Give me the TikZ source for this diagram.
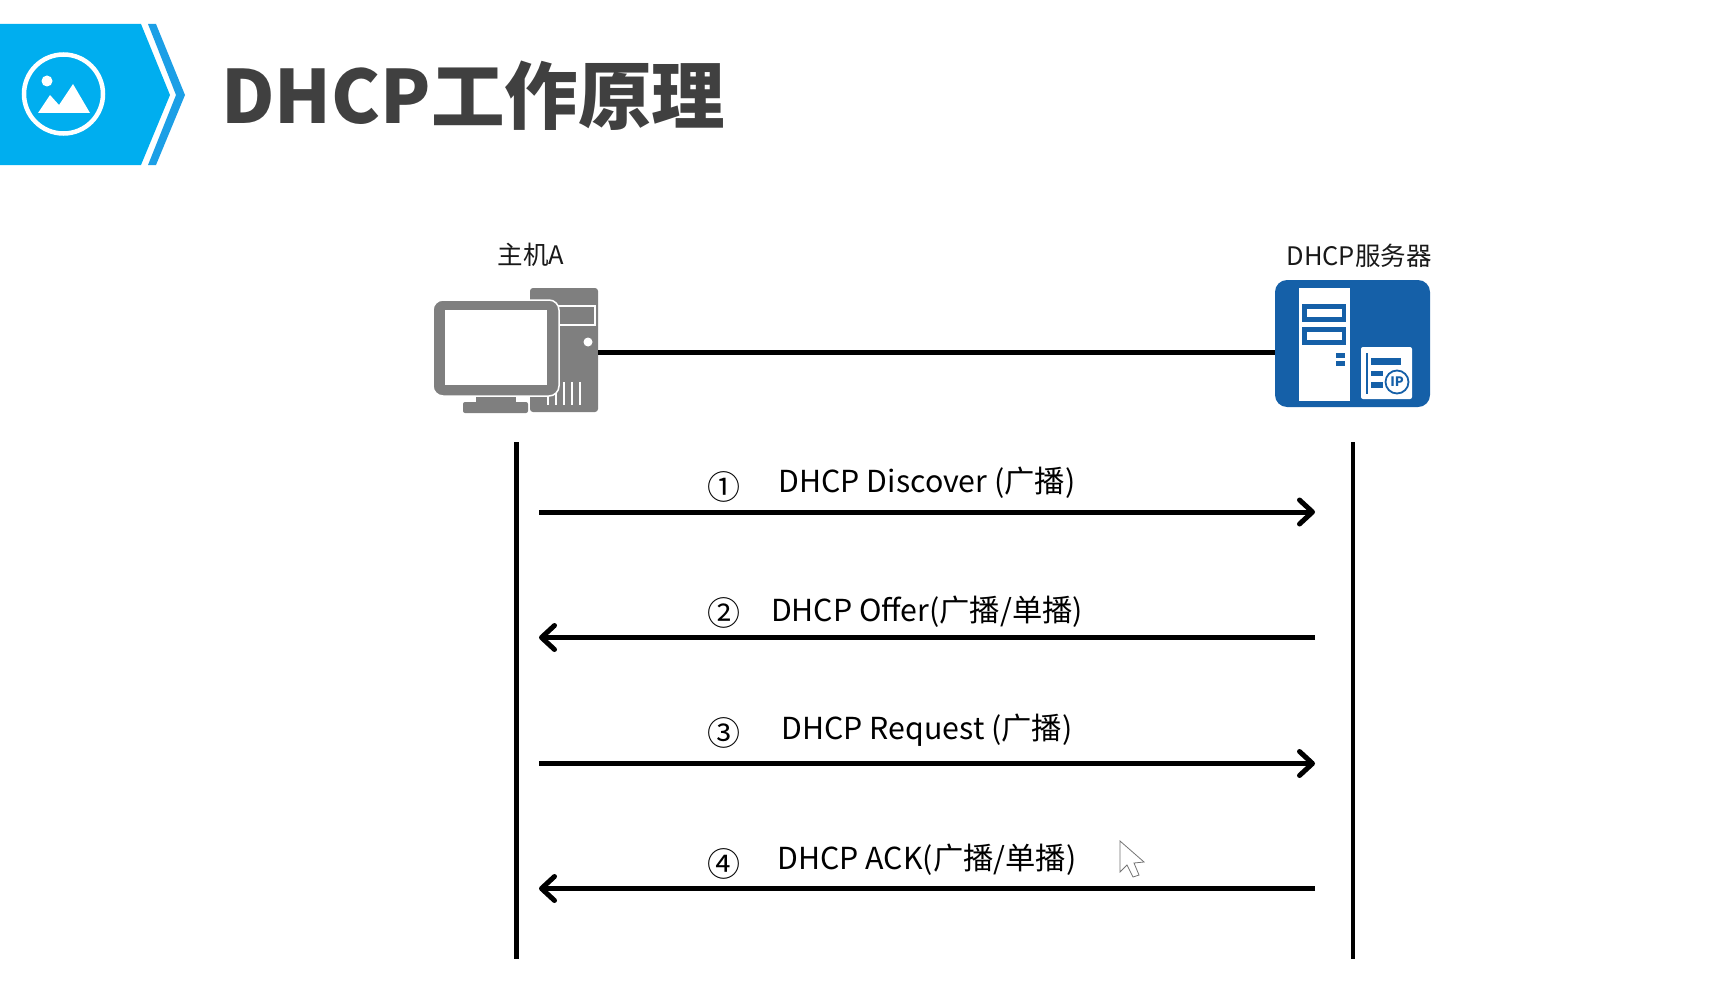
\documentclass[tikz,border=0pt]{standalone}
\usepackage{fontspec}
\setmainfont{Noto Sans CJK SC}
\usetikzlibrary{arrows.meta}
\definecolor{bannerblue}{HTML}{00AEEF}
\definecolor{chevronblue}{HTML}{1C9FE6}
\definecolor{titlegray}{HTML}{404040}
\definecolor{hostgray}{HTML}{7F7F7F}
\definecolor{serverblue}{HTML}{1560A8}
\tikzset{
  lifeline/.style={draw=black,line width=4.5pt},
  linkline/.style={draw=black,line width=5pt},
  msgarrow/.style={draw=black,line width=5pt,-{Straight Barb[length=13pt,width=24pt,round]}},
  msglabel/.style={inner sep=0pt,anchor=base,font=\fontsize{30.3}{30.3}\selectfont,text=black},
  msgnum/.style={inner sep=0pt,font=\fontsize{33}{33}\selectfont,text=black},
  devlabel/.style={inner sep=0pt,anchor=base,font=\fontsize{25.5}{25.5}\selectfont,text=black!90},
  hostpart/.style={fill=hostgray,draw=none},
  whitebar/.style={fill=white,draw=none},
  bluebar/.style={fill=serverblue,draw=none}
}
\begin{document}
\begin{tikzpicture}[x=1pt,y=-1pt]
  \useasboundingbox (0,0) rectangle (1721,1006);
  % banner
  \fill[bannerblue] (0,24) -- (141,24) -- (170,95) -- (141,165) -- (0,165) -- cycle;
  \fill[chevronblue] (148,24) -- (156,24) -- (185,95) -- (156,165) -- (148,165) -- (176,95) -- cycle;
  \draw[white,line width=4.5pt] (63.5,94) circle[radius=39.5];
  \fill[white] (47,81) circle[radius=5.5];
  \fill[white] (38,113) -- (50,95) -- (59,105) -- (73,84) -- (90,113) -- cycle;
  \node[inner sep=0pt,anchor=base west,text=titlegray,font=\bfseries\fontsize{73.5}{73.5}\selectfont] (title) at (221,124) {DHCP工作原理};
  % host
  \node[devlabel] (hostlabel) at (531,264) {主机A};
  \node[hostpart,rounded corners=3pt,minimum width=68pt,minimum height=124pt,inner sep=0pt] (tower) at (564,350) {};
  \fill[hostpart,draw=white,line width=1.2pt] (558,306) rectangle (595,325);
  \fill[white] (588,342) circle[radius=4.5];
  \foreach \x in {548,556,564,572,580}
    \draw[white,line width=1.5pt] (\x,382) -- (\x,405);
  \fill[hostpart] (476,395) rectangle (516,403);
  \fill[hostpart,rounded corners=2pt] (463,402) rectangle (528,413);
  \filldraw[hostgray,draw=white,line width=1.5pt,rounded corners=10pt] (433,300) rectangle (559,396);
  \fill[white] (445,310) rectangle (547,385);
  % server
  \node[devlabel] (serverlabel) at (1359,265) {DHCP服务器};
  \node[fill=serverblue,rounded corners=12pt,minimum width=155pt,minimum height=127pt,inner sep=0pt] (server) at (1352.5,343.5) {};
  \fill[white] (1299,288) rectangle (1350,401);
  \fill[bluebar] (1302,304) rectangle (1346,322);
  \fill[whitebar] (1306.5,309) rectangle (1341.5,317);
  \fill[bluebar] (1302,327) rectangle (1346,345);
  \fill[whitebar] (1306.5,332) rectangle (1341.5,340);
  \fill[bluebar] (1336,353) rectangle (1345,358);
  \fill[bluebar] (1336,361) rectangle (1345,366);
  \fill[white,rounded corners=2pt] (1361,347) rectangle (1412,399);
  \fill[bluebar] (1366,353) rectangle (1367.5,394);
  \fill[bluebar] (1371,358) rectangle (1401,365);
  \fill[bluebar] (1371,371) rectangle (1383,376);
  \fill[bluebar] (1371,382) rectangle (1383,388);
  \node[circle,draw=serverblue,fill=white,line width=1.8pt,minimum size=23pt,inner sep=0pt,text=serverblue,font=\bfseries\fontsize{13}{13}\selectfont] (ipmark) at (1397,382) {IP};
  % link
  \coordinate (linkA) at (598,352.5);
  \coordinate (linkB) at (1275,352.5);
  \draw[linkline] (linkA) -- (linkB);
  % lifelines
  \coordinate (hosttop) at (516.5,442);
  \coordinate (hostend) at (516.5,959);
  \coordinate (servertop) at (1353,442);
  \coordinate (serverend) at (1353,959);
  \draw[lifeline] (hosttop) -- (hostend);
  \draw[lifeline] (servertop) -- (serverend);
  % messages
  \coordinate (a1) at (539,512);
  \coordinate (b1) at (1315,512);
  \coordinate (a2) at (539,637.5);
  \coordinate (b2) at (1315,637.5);
  \coordinate (a3) at (539,763.5);
  \coordinate (b3) at (1315,763.5);
  \coordinate (a4) at (539,888.5);
  \coordinate (b4) at (1315,888.5);
  \draw[msgarrow] (a1) -- (b1);
  \draw[msgarrow] (b2) -- (a2);
  \draw[msgarrow] (a3) -- (b3);
  \draw[msgarrow] (b4) -- (a4);
  \node[msgnum] (num1) at (724,487) {①};
  \node[msgnum] (num2) at (724,613) {②};
  \node[msgnum] (num3) at (724,733) {③};
  \node[msgnum] (num4) at (724,864) {④};
  \node[msglabel] (msg1) at (927,492) {DHCP Discover (广播)};
  \node[msglabel] (msg2) at (927,621) {DHCP Offer(广播/单播)};
  \node[msglabel] (msg3) at (927,739) {DHCP Request (广播)};
  \node[msglabel] (msg4) at (927,869) {DHCP ACK(广播/单播)};
  % pointer
  \filldraw[fill=white,draw=black!55,line width=0.8pt] (1120,841) -- (1120,872) -- (1127,865) -- (1133,877) -- (1139,875) -- (1134,863) -- (1144,862) -- cycle;
\end{tikzpicture}
\end{document}
